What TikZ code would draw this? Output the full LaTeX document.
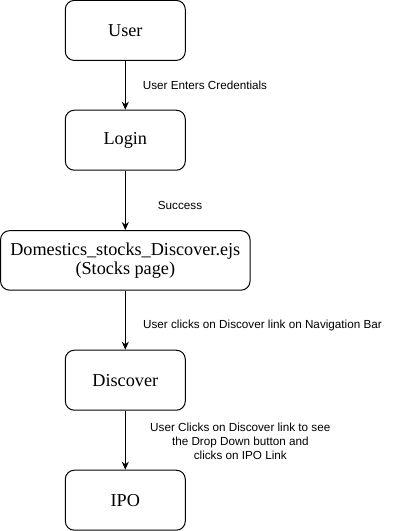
\documentclass[tikz,border=0pt]{standalone}
\usepackage{fontspec}
\setmainfont{Liberation Serif}
\newfontfamily\labelfont{Liberation Sans}
\usetikzlibrary{arrows.meta}
\begin{document}
\begin{tikzpicture}[x=1pt,y=-1pt,
  box/.style={draw,line width=1pt,rounded corners=9pt,align=center,font=\fontsize{18.2}{18.5}\selectfont,inner sep=0pt},
  lbl/.style={font=\labelfont\fontsize{11.7}{14}\selectfont,align=center,inner sep=0pt},
  arr/.style={line width=1pt,-{Stealth[length=8pt,width=7pt,inset=2.5pt]}}]
\useasboundingbox (0,0) rectangle (401,531);
\node[box,minimum width=120pt,minimum height=60pt] (user) at (125.3,30.4) {User};
\node[box,minimum width=120pt,minimum height=60pt] (login) at (125.3,140.2) {Login};
\node[box,minimum width=249.5pt,minimum height=59.5pt] (dom) at (125.3,260.4) {Domestics\_stocks\_Discover.ejs\\(Stocks page)};
\node[box,minimum width=120pt,minimum height=60pt] (disc) at (125.3,380.2) {Discover};
\node[box,minimum width=120pt,minimum height=60pt] (ipo) at (125.3,500.2) {IPO};
\draw[arr] (user) -- (login);
\draw[arr] (login) -- (dom);
\draw[arr] (dom) -- (disc);
\draw[arr] (disc) -- (ipo);
\node[lbl] (l1) at (205,85.7) {User Enters Credentials};
\node[lbl] (l2) at (180,205.3) {Success};
\node[lbl] (l3) at (262.5,325.7) {User clicks on Discover link on Navigation Bar};
\node[lbl] (l4) at (240.3,441) {User Clicks on Discover link to see\\the Drop Down button and\\clicks on IPO Link};
\end{tikzpicture}
\end{document}
